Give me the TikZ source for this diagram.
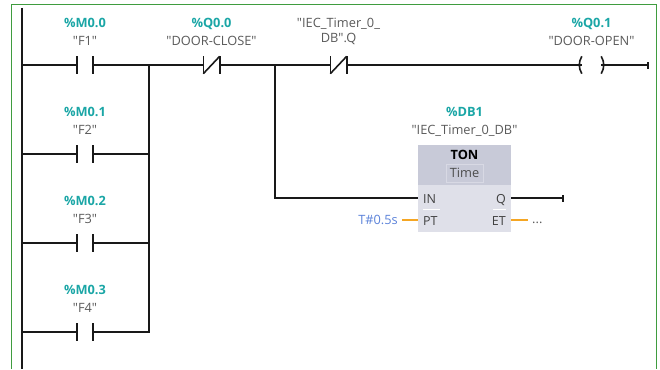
\documentclass[tikz,border=0pt]{standalone}
\usepackage{fontspec}
\setmainfont{Open Sans}[Ligatures=TeXOff]
\usepackage{tikz}
\usetikzlibrary{positioning}
\definecolor{addrcol}{HTML}{1BA6A6}
\definecolor{tagcol}{HTML}{5A5A5A}
\definecolor{framecol}{HTML}{3F9C3F}
\definecolor{headcol}{HTML}{C8CAD8}
\definecolor{bodycol}{HTML}{DFE0E9}
\definecolor{valcol}{HTML}{5B82D9}
\definecolor{paramcol}{HTML}{F5A623}
\tikzset{
	wire/.style={line width=2pt,black!90},
	rail/.style={line width=2pt,black!90},
	plate/.style={line width=1.6pt,black!90},
	contact/.style={minimum width=16pt,minimum height=17pt,inner sep=0pt},
	coil/.style={minimum width=19pt,minimum height=17pt,inner sep=0pt},
	endtick/.style={fill=black!90,minimum width=2pt,minimum height=7pt,inner sep=0pt},
	addr/.style={font=\fontsize{12.8}{15}\selectfont\bfseries,text=addrcol,inner sep=0pt,text height=10pt,text depth=3pt},
	tag/.style={font=\fontsize{12.8}{15.5}\selectfont,text=tagcol,inner sep=0pt,align=center,text height=10pt,text depth=3pt},
	pinlbl/.style={font=\fontsize{12.5}{15}\selectfont,text=black!75,inner sep=0pt,text height=9pt,text depth=1pt},
	param/.style={line width=2pt,paramcol}
}
\begin{document}
\begin{tikzpicture}[x=1pt,y=-1pt]
	\useasboundingbox (0,0) rectangle (660,369);
	\coordinate (frameA) at (11.5,369);
	\coordinate (frameB) at (11.5,4.5);
	\coordinate (frameC) at (656.5,4.5);
	\coordinate (frameD) at (656.5,369);
	\draw[framecol,line width=0.8pt] (frameA) -- (frameB) -- (frameC) -- (frameD);

	\coordinate (railtop) at (22,8);
	\coordinate (railbot) at (22,369);
	\draw[rail] (railtop) -- (railbot);

	\foreach \name/\ypos/\addrtxt/\tagtxt in {f1/65/M0.0/F1,f2/154/M0.1/F2,f3/243/M0.2/F3,f4/332/M0.3/F4}
	{
		\node[contact] (\name) at (85,\ypos) {};
		\node[tag,above=7.5pt of \name] (\name tag) {"\tagtxt"};
		\node[addr,above=5pt of \name tag] (\name addr) {\%\addrtxt};
	}
	\node[contact] (nc1) at (211.5,65) {};
	\node[contact] (nc2) at (338.5,65) {};
	\node[coil] (q1) at (591.5,65) {};
	\node[endtick] (q1end) at (648,65) {};

	\node[tag,above=7.5pt of nc1] (nc1tag) {"DOOR-CLOSE"};
	\node[addr,above=5pt of nc1tag] (nc1addr) {\%Q0.0};
	\node[tag,above=10.5pt of nc2] (nc2tag) {"IEC\_Timer\_0\_\\DB".Q};
	\node[tag,above=7.5pt of q1] (q1tag) {"DOOR-OPEN"};
	\node[addr,above=5pt of q1tag] (q1addr) {\%Q0.1};

	\foreach \c in {f1,f2,f3,f4,nc1,nc2}
		\draw[plate] (\c.north west) -- (\c.south west) (\c.north east) -- (\c.south east);
	\foreach \c in {nc1,nc2}
		\draw[plate] (\c.south west) -- (\c.north east);
	\draw[plate] (q1.north west) to[bend right=30] (q1.south west);
	\draw[plate] (q1.north east) to[bend left=30] (q1.south east);

	\node[minimum width=93pt,minimum height=40pt,inner sep=0pt,fill=headcol] (head) at (464.5,165) {};
	\node[minimum width=93pt,minimum height=47pt,inner sep=0pt,fill=bodycol,below=0pt of head] (body) {};
	\node[font=\fontsize{12.8}{15}\selectfont\bfseries,inner sep=0pt] (ton) at (464.5,154.5) {TON};
	\node[font=\fontsize{12.8}{15}\selectfont,text=black!70,draw=bodycol!70!headcol,line width=0.6pt,minimum width=37pt,minimum height=18pt,inner sep=0pt] (timebox) at (464.5,173) {Time};
	\node[tag,above=7pt of head] (dbtag) {"IEC\_Timer\_0\_DB"};
	\node[addr,above=5pt of dbtag] (dbaddr) {\%DB1};

	\node[pinlbl,anchor=west] (in) at (423,199) {IN};
	\node[pinlbl,anchor=east] (qout) at (506,199) {Q};
	\node[pinlbl,anchor=west] (pt) at (423,221) {PT};
	\node[pinlbl,anchor=east] (et) at (506,221) {ET};
	\draw[white,line width=0.6pt] (423,209.5) -- (440,209.5) (493,209.5) -- (506,209.5);

	\node[font=\fontsize{12.8}{15}\selectfont,text=valcol,inner xsep=4pt,inner ysep=0pt,anchor=east] (ptval) at (402,220) {T\#0.5s};
	\node[font=\fontsize{12.8}{15}\selectfont,text=tagcol,inner xsep=4pt,inner ysep=0pt,text height=9pt,text depth=3pt,anchor=west] (etval) at (528,220) {...};
	\node[endtick] (qend) at (563,198) {};

	\coordinate (j1) at (149,65);
	\coordinate (j2) at (275,65);

	\draw[wire] (railtop |- f1.west) -- (f1.west);
	\draw[wire] (railtop |- f2.west) -- (f2.west);
	\draw[wire] (railtop |- f3.west) -- (f3.west);
	\draw[wire] (railtop |- f4.west) -- (f4.west);
	\draw[wire] (f1.east) -- (j1) -- (nc1.west);
	\draw[wire] (nc1.east) -- (j2) -- (nc2.west);
	\draw[wire] (nc2.east) -- (q1.west);
	\draw[wire] (q1.east) -- (q1end);
	\draw[wire] (f2.east) -- (f2.east -| j1);
	\draw[wire] (f3.east) -- (f3.east -| j1);
	\draw[wire] (f4.east) -| (j1);
	\draw[wire] (j2) |- (body.west |- qend);
	\draw[wire] (body.east |- qend) -- (qend);
	\draw[param] (ptval.east) -- (body.west |- ptval.east);
	\draw[param] (body.east |- etval.west) -- (etval.west);
\end{tikzpicture}
\end{document}
